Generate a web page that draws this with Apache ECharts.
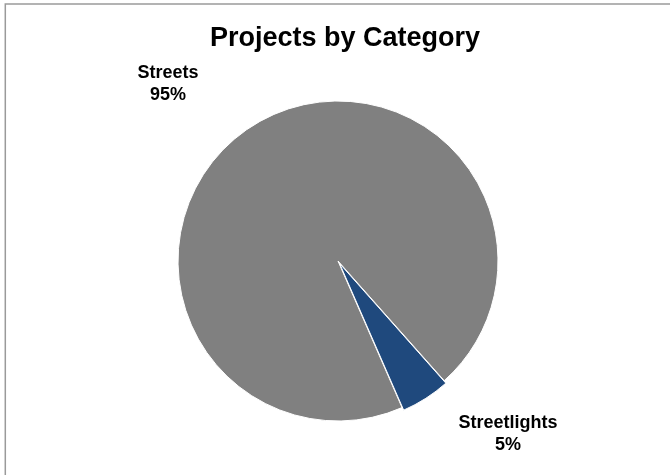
<!DOCTYPE html>
<html>
<head>
<meta charset="utf-8">
<script src="https://cdn.jsdelivr.net/npm/echarts@6/dist/echarts.min.js"></script>
<style>
  html, body { margin: 0; padding: 0; background: #fff; }
  #chart { width: 670px; height: 475px; }
</style>
</head>
<body>
<div id="chart"></div>
<script>
// Share of projects per category
const categories = ['Streets', 'Streetlights'];
const shares = [95, 5];
const sliceColors = ['#808080', '#1F497D'];

// Where each two-line label block is centred
const labelSpots = [[168, 84], [508, 434]];

const pieCenter = [338, 261];
const pieRadius = 160;
const startAngle = 293.6;
// The smaller slice is pulled a little away from the centre
const explode = 3;

const total = shares.reduce(function (a, b) { return a + b; }, 0);
const smallMid = (startAngle - 360 * (1 - shares[1] / total / 2)) * Math.PI / 180;
const explodedCenter = [
  pieCenter[0] + explode * Math.cos(smallMid),
  pieCenter[1] - explode * Math.sin(smallMid)
];

const labelStyle = {
  show: true,
  position: 'outside',
  formatter: '{b}\n{d}%',
  fontFamily: 'Liberation Sans, Arial, sans-serif',
  fontSize: 18,
  fontWeight: 'bold',
  lineHeight: 22,
  color: '#000000',
  align: 'center'
};

// One pie ring per slice so that only the highlighted slice is shifted
function ring(center, visibleIndex) {
  return {
    type: 'pie',
    center: center,
    radius: pieRadius,
    startAngle: startAngle,
    clockwise: true,
    avoidLabelOverlap: false,
    silent: true,
    itemStyle: { borderColor: '#ffffff', borderWidth: 1 },
    emphasis: { disabled: true },
    labelLine: { show: false },
    labelLayout: function (params) {
      const spot = labelSpots[params.dataIndex];
      return { x: spot[0], y: spot[1], align: 'center', verticalAlign: 'middle' };
    },
    data: categories.map(function (name, i) {
      const shown = i === visibleIndex;
      return {
        name: name,
        value: shares[i],
        itemStyle: shown
          ? { color: sliceColors[i] }
          : { color: 'rgba(0,0,0,0)', borderColor: 'rgba(0,0,0,0)' },
        label: shown ? labelStyle : { show: false }
      };
    })
  };
}

const chart = echarts.init(document.getElementById('chart'));

chart.setOption({
  animation: false,
  backgroundColor: '#ffffff',
  title: {
    text: 'Projects by Category',
    left: 340,
    top: 20,
    textAlign: 'center',
    textStyle: {
      fontFamily: 'Liberation Sans, Arial, sans-serif',
      fontSize: 27,
      fontWeight: 'bold',
      color: '#000000'
    }
  },
  graphic: [
    {
      type: 'rect',
      shape: { x: 5.3, y: 4, width: 700, height: 500 },
      style: { fill: 'none', stroke: '#9a9a9a', lineWidth: 1.5 },
      silent: true
    }
  ],
  series: [
    ring(pieCenter, 0),
    ring(explodedCenter, 1)
  ]
});
</script>
</body>
</html>
